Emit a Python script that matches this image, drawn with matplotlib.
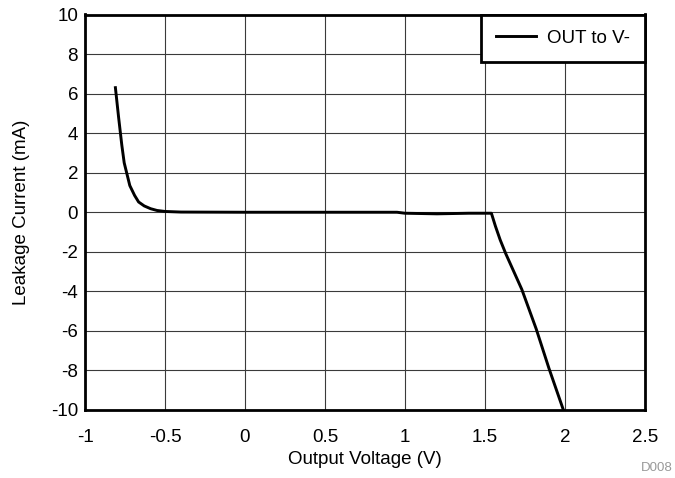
import matplotlib
matplotlib.use("Agg")
import matplotlib.pyplot as plt

voltage = [-0.81, -0.79, -0.77, -0.755, -0.72, -0.69, -0.665, -0.63, -0.59, -0.55, -0.5, -0.4, 0.0, 0.5, 0.95, 1.0, 1.2, 1.4, 1.54,
           1.565, 1.595, 1.63, 1.73, 1.82, 1.9, 1.99]
current = [6.3, 4.8, 3.4, 2.5, 1.35, 0.85, 0.52, 0.32, 0.18, 0.09, 0.04, 0.01, 0.0, 0.0, 0.0, -0.05, -0.08, -0.05, -0.05,
           -0.7, -1.4, -2.1, -3.9, -5.9, -7.9, -10.0]

xticks = [-1, -0.5, 0, 0.5, 1, 1.5, 2, 2.5]
xticklabels = ["-1", "-0.5", "0", "0.5", "1", "1.5", "2", "2.5"]
yticks = [-10, -8, -6, -4, -2, 0, 2, 4, 6, 8, 10]
yticklabels = [str(v) for v in yticks]

plt.rcParams['font.family'] = ['Liberation Sans', 'DejaVu Sans']
FS = 13.5

fig = plt.figure(figsize=(6.75, 4.78), dpi=100)
ax = fig.add_axes([85/675, 68/478, 560/675, 395.5/478])
ax.plot(voltage, current, color='black', lw=2.1, label='OUT to V-', zorder=3)
ax.set_xlim(-1, 2.5)
ax.set_ylim(-10, 10)
ax.set_xticks(xticks)
ax.set_xticklabels(xticklabels)
ax.set_yticks(yticks)
ax.set_yticklabels(yticklabels)
ax.tick_params(length=0, labelsize=FS)
ax.tick_params(axis='x', pad=13.5)
ax.tick_params(axis='y', pad=5)
ax.grid(True, color='#3a3a3a', lw=0.8)
for s in ax.spines.values():
    s.set_linewidth(2)
ax.set_xlabel('Output Voltage (V)', fontsize=FS, labelpad=3.5)
ax.set_ylabel('Leakage Current (mA)', fontsize=FS, labelpad=15)
leg = ax.legend(loc='upper right', fontsize=FS, frameon=True, fancybox=False,
                borderaxespad=0, handlelength=2.1, borderpad=0.8, handletextpad=0.6)
leg.get_frame().set_edgecolor('black')
leg.get_frame().set_linewidth(2)
leg.get_frame().set_alpha(1)
fig.text(0.997, (478 - 471) / 478, 'D008', color='#999999', fontsize=9.5, ha='right', va='baseline')
fig.savefig('out.png', dpi=100)
